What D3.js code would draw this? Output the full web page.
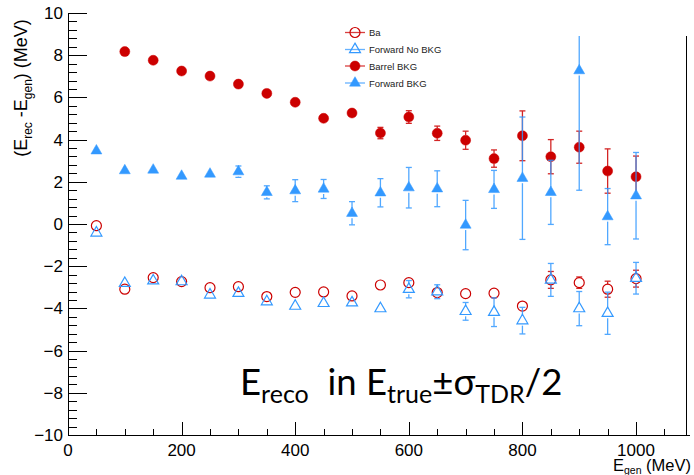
<!DOCTYPE html>
<html>
<head>
<meta charset="utf-8">
<script src="https://cdn.jsdelivr.net/npm/d3@7"></script>
<style>
  body { margin: 0; background: #fff; }
  svg { display: block; font-family: "Liberation Sans", Arial, sans-serif; }
</style>
</head>
<body>
<svg id="chart" width="694" height="475"></svg>
<script>
// energy residual vs generated energy, four selections

// DATA
var egen = [50, 100, 150, 200, 250, 300, 350, 400, 450, 500, 550, 600, 650, 700, 750, 800, 850, 900, 950, 1000];

var barrelNoBkg    = [-0.08, -3.09, -2.54, -2.73, -3.02, -2.97, -3.44, -3.24, -3.22, -3.41, -2.89, -2.78, -3.25, -3.30, -3.28, -3.89, -2.65, -2.78, -3.09, -2.59];
var barrelNoBkgErr = [0.05, 0.08, 0.08, 0.08, 0.08, 0.08, 0.08, 0.08, 0.08, 0.08, 0.10, 0.12, 0.12, 0.12, 0.12, 0.15, 0.40, 0.27, 0.38, 0.40];

var forwardNoBkg    = [-0.42, -2.81, -2.69, -2.73, -3.36, -3.28, -3.68, -3.89, -3.76, -3.73, -4.01, -3.09, -3.21, -4.14, -4.18, -4.58, -2.65, -4.01, -4.23, -2.57];
var forwardNoBkgErr = [0.05, 0.08, 0.08, 0.08, 0.08, 0.08, 0.08, 0.10, 0.10, 0.12, 0.15, 0.41, 0.33, 0.42, 0.68, 0.63, 0.78, 0.81, 1.00, 0.75];

// barrel BKG starts at 100 MeV
var egenBarrelBkg = [100, 150, 200, 250, 300, 350, 400, 450, 500, 550, 600, 650, 700, 750, 800, 850, 900, 950, 1000];
var barrelBkg    = [8.17, 7.76, 7.25, 7.01, 6.63, 6.19, 5.77, 5.01, 5.26, 4.31, 5.07, 4.30, 3.97, 3.10, 4.18, 3.19, 3.64, 2.51, 2.24];
var barrelBkgErr = [0.08, 0.08, 0.08, 0.08, 0.1, 0.1, 0.1, 0.12, 0.15, 0.27, 0.30, 0.34, 0.43, 0.41, 1.18, 0.81, 0.76, 1.05, 0.98];

var forwardBkg    = [3.47, 2.53, 2.56, 2.27, 2.37, 2.48, 1.50, 1.58, 1.66, 0.51, 1.48, 1.72, 1.67, -0.05, 1.64, 2.17, 1.50, 7.27, 0.35, 1.34];
var forwardBkgErr = [0.08, 0.08, 0.08, 0.10, 0.12, 0.27, 0.31, 0.52, 0.45, 0.55, 0.67, 0.96, 0.85, 1.17, 0.90, 2.90, 1.52, 5.67, 1.33, 2.05];

var xMajorTicks = [0, 200, 400, 600, 800, 1000];
var yMajorTicks = [-10, -8, -6, -4, -2, 0, 2, 4, 6, 8, 10];

var red = "#cc0000";
var blue = "#3399ff";

// chart area
var margin = { top: 13, right: 4, bottom: 40, left: 68 };
var width = 694, height = 475;

var svg = d3.select("#chart");

// SCALES
var x = d3.scaleLinear().domain([0, 1095]).range([margin.left, width - margin.right]);
var y = d3.scaleLinear().domain([-10, 10]).range([height - margin.bottom, margin.top]);

svg.append("clipPath").attr("id", "frame")
    .append("rect")
    .attr("x", x(0)).attr("y", y(10))
    .attr("width", x(1095) - x(0)).attr("height", y(-10) - y(10));

// AXES (ROOT style, ticks inside)
var xMinor = d3.range(0, 1095, 50).filter(function(v) { return v % 200 !== 0; });
var yMinor = d3.range(-10, 10.001, 0.4).map(function(v) { return +v.toFixed(1); })
    .filter(function(v) { return Math.abs(v % 2) > 0.01; });

var gx = svg.append("g").attr("transform", "translate(0," + y(-10) + ")");
gx.call(d3.axisTop(x).tickValues(xMajorTicks).tickSize(12.7).tickFormat(""));
gx.append("g").call(d3.axisTop(x).tickValues(xMinor).tickSize(6.3).tickFormat(""));
gx.selectAll(".domain").remove();
gx.append("line").attr("x1", x(0)).attr("x2", x(1095)).attr("y1", 0.5).attr("y2", 0.5);
gx.selectAll("line").attr("stroke", "#000").attr("shape-rendering", "crispEdges");

gx.selectAll(".xlab").data(xMajorTicks).enter().append("text")
    .attr("x", function(d) { return x(d); })
    .attr("y", 21)
    .attr("text-anchor", "middle")
    .attr("font-size", 17)
    .attr("fill", "#000")
    .text(function(d) { return d; });

var gy = svg.append("g").attr("transform", "translate(" + x(0) + ",0)");
gy.call(d3.axisRight(y).tickValues(yMajorTicks).tickSize(18.5).tickFormat(""));
gy.append("g").call(d3.axisRight(y).tickValues(yMinor).tickSize(9.3).tickFormat(""));
gy.selectAll(".domain").remove();
gy.append("line").attr("x1", 0.5).attr("x2", 0.5).attr("y1", y(-10)).attr("y2", y(10));
gy.selectAll("line").attr("stroke", "#000").attr("shape-rendering", "crispEdges");

gy.selectAll(".ylab").data(yMajorTicks).enter().append("text")
    .attr("x", -5)
    .attr("y", function(d) { return y(d) + 6; })
    .attr("text-anchor", "end")
    .attr("font-size", 17)
    .attr("fill", "#000")
    .text(function(d) { return d < 0 ? "\u2212" + (-d) : d; });

// right frame edge
svg.append("line")
    .attr("x1", x(1095) - 3.5).attr("x2", x(1095) - 3.5)
    .attr("y1", y(10)).attr("y2", y(-10))
    .attr("stroke", "#000")
    .attr("shape-rendering", "crispEdges");

// axis titles
var xt = svg.append("text")
    .attr("x", width - 3).attr("y", 471)
    .attr("text-anchor", "end")
    .attr("font-size", 16.5);
xt.append("tspan").text("E");
xt.append("tspan").attr("font-size", 10.5).attr("dy", 3).text("gen");
xt.append("tspan").attr("dy", -3).text(" (MeV)");

var yt = svg.append("text")
    .attr("transform", "translate(27,88) rotate(-90)")
    .attr("text-anchor", "middle")
    .attr("font-size", 18);
yt.append("tspan").text("(E");
yt.append("tspan").attr("font-size", 12).attr("dy", 5).text("rec");
yt.append("tspan").attr("dy", -5).text(" -E");
yt.append("tspan").attr("font-size", 12).attr("dy", 5).text("gen");
yt.append("tspan").attr("dy", -5).text(") (MeV)");

// SERIES
var series = [
    { xs: egen, ys: barrelNoBkg, es: barrelNoBkgErr, color: red, shape: "circle", filled: false },
    { xs: egen, ys: forwardNoBkg, es: forwardNoBkgErr, color: blue, shape: "triangle", filled: false },
    { xs: egenBarrelBkg, ys: barrelBkg, es: barrelBkgErr, color: red, shape: "circle", filled: true },
    { xs: egen, ys: forwardBkg, es: forwardBkgErr, color: blue, shape: "triangle", filled: true }
];

var markerR = 5;
var circleSym = d3.symbol().type(d3.symbolCircle).size(Math.PI * markerR * markerR);
var triSym = d3.symbol().type(d3.symbolTriangle).size(52);

function drawMarker(g, s) {
    return g.append("path")
        .attr("d", s.shape === "circle" ? circleSym() : triSym())
        .attr("fill", s.filled ? s.color : "none")
        .attr("stroke", s.color)
        .attr("stroke-width", s.filled ? 0.5 : 1.2);
}

var plot = svg.append("g").attr("clip-path", "url(#frame)");

series.forEach(function(s) {
    // error bars are only visible where they stick out of the marker
    var pts = s.xs.map(function(xv, i) { return { x: xv, y: s.ys[i], e: s.es[i] }; });
    var g = plot.append("g");
    var outside = pts.filter(function(d) { return y(d.y - d.e) - y(d.y) > markerR; });

    var bars = g.selectAll(".bar").data(outside).enter().append("g")
        .attr("stroke", s.color)
        .attr("stroke-width", 1.3)
        .attr("opacity", 0.85);
    [1, -1].forEach(function(sign) {
        bars.append("line")
            .attr("x1", function(d) { return x(d.x); })
            .attr("x2", function(d) { return x(d.x); })
            .attr("y1", function(d) { return y(d.y) - sign * markerR; })
            .attr("y2", function(d) { return y(d.y + sign * d.e); });
        bars.append("line")
            .attr("x1", function(d) { return x(d.x) - 3; })
            .attr("x2", function(d) { return x(d.x) + 3; })
            .attr("y1", function(d) { return y(d.y + sign * d.e); })
            .attr("y2", function(d) { return y(d.y + sign * d.e); });
    });

    pts.forEach(function(d) {
        drawMarker(g, s).attr("transform", "translate(" + x(d.x) + "," + y(d.y) + ")");
    });
});

// LEGEND (its white box hides the top of the frame)
svg.append("rect")
    .attr("x", 330).attr("y", 0)
    .attr("width", width - 330).attr("height", 36)
    .attr("fill", "#fff");

var legendLabels = ["Ba", "Forward No BKG", "Barrel BKG", "Forward BKG"];
var legendY = [32.5, 49.5, 66, 83];
var leg = svg.append("g").attr("font-size", 9.5);
series.forEach(function(s, i) {
    leg.append("line")
        .attr("x1", 345).attr("x2", 365)
        .attr("y1", legendY[i]).attr("y2", legendY[i])
        .attr("stroke", s.color).attr("stroke-width", 1.3).attr("opacity", 0.75);
    drawMarker(leg, s).attr("transform", "translate(355," + legendY[i] + ")");
    leg.append("text")
        .attr("x", 369).attr("y", legendY[i] + 3.5)
        .attr("fill", "#222")
        .text(legendLabels[i]);
});

// annotation
var ann = svg.append("text")
    .attr("x", 240).attr("y", 395)
    .attr("font-family", "Lato, 'Open Sans', sans-serif")
    .attr("font-size", 36.5);
ann.append("tspan").text("E");
ann.append("tspan").attr("font-size", 25).attr("dy", 8).text("reco");
ann.append("tspan").attr("dy", -8).text("\u00a0\u00a0in E");
ann.append("tspan").attr("font-size", 25).attr("dy", 8).text("true");
ann.append("tspan").attr("dy", -8).text("\u00b1\u03c3");
ann.append("tspan").attr("font-size", 25).attr("dy", 8).text("TDR");
ann.append("tspan").attr("dy", -8).text("/2");
</script>
</body>
</html>
